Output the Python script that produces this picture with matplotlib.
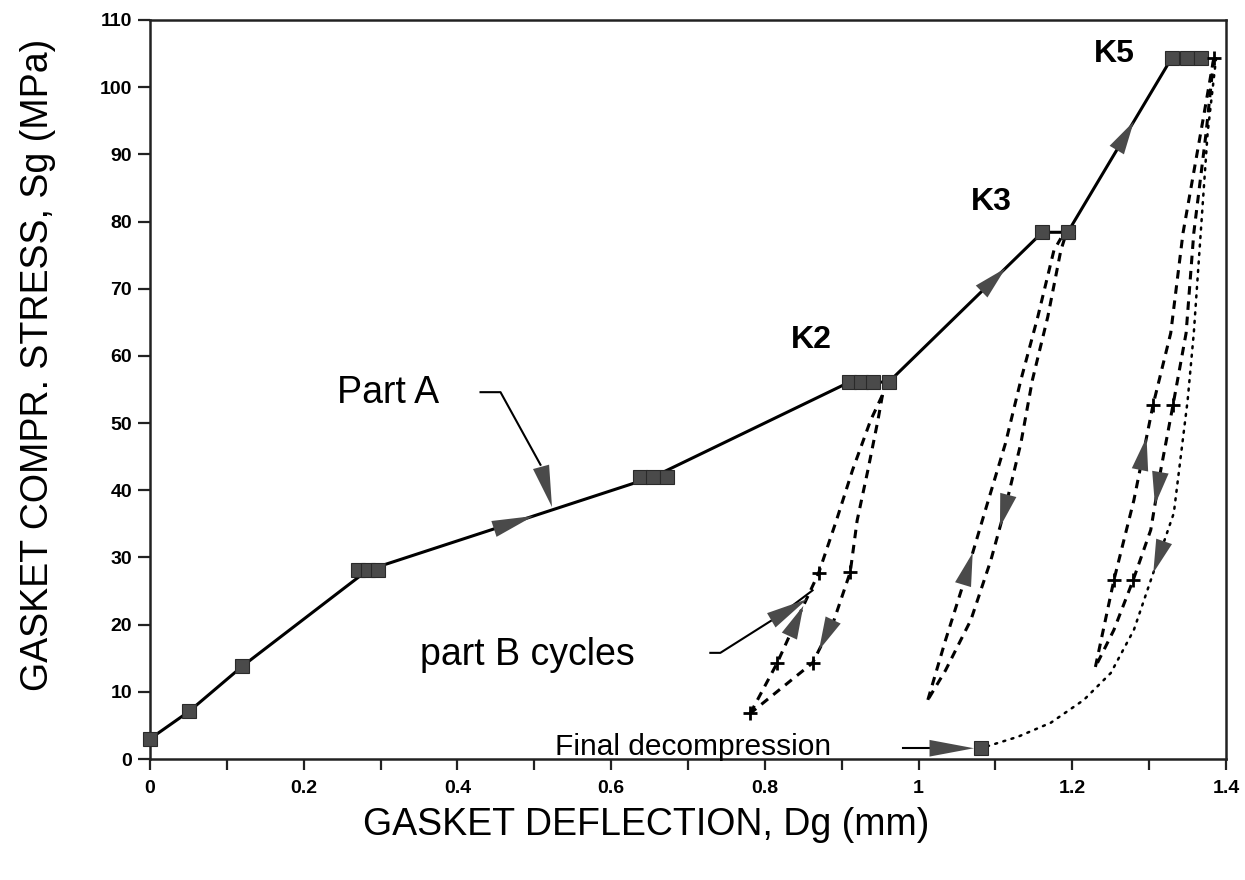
import numpy as np
import matplotlib.pyplot as plt
from matplotlib import font_manager

# Part A : montee en charge (courbe continue)
part_a_x = [0.0, 0.051, 0.12, 0.283, 0.655, 0.91, 0.961, 1.161, 1.194, 1.329, 1.367]
part_a_y = [3.0, 7.1, 13.8, 28.1, 42.0, 56.1, 56.1, 78.4, 78.4, 104.3, 104.3]

# points carres (paliers)
sq_x = [0.0, 0.051, 0.12, 0.271, 0.284, 0.296, 0.637, 0.655, 0.672,
        0.91, 0.925, 0.94, 0.961, 1.161, 1.194, 1.329, 1.349, 1.367, 1.081]
sq_y = [3.0, 7.1, 13.8, 28.1, 28.1, 28.1, 42.0, 42.0, 42.0,
        56.1, 56.1, 56.1, 56.1, 78.4, 78.4, 104.3, 104.3, 104.3, 1.6]

# Part B : cycles K2
k2_down_x = [0.953, 0.947, 0.934, 0.92, 0.911, 0.89, 0.862, 0.781]
k2_down_y = [54.2, 50.4, 43.0, 35.5, 27.8, 20.7, 14.3, 6.8]
k2_up_x = [0.781, 0.816, 0.837, 0.87, 0.893, 0.914, 0.9375, 0.953]
k2_up_y = [6.8, 14.3, 19.6, 27.7, 35.5, 43.0, 50.4, 54.2]

# cycles K3
k3_down_x = [1.19, 1.185, 1.168, 1.148, 1.133, 1.113, 1.094, 1.068, 1.035, 1.012]
k3_down_y = [77.5, 75.7, 65.8, 56.4, 47.0, 37.5, 29.6, 20.7, 13.2, 8.8]
k3_up_x = [1.012, 1.035, 1.061, 1.087, 1.113, 1.133, 1.155, 1.176, 1.185]
k3_up_y = [8.8, 17.7, 27.1, 37.1, 47.0, 56.4, 65.8, 75.7, 77.5]

# cycles K5
k5_down_x = [1.384, 1.374, 1.358, 1.348, 1.331, 1.315, 1.302, 1.279, 1.254, 1.23]
k5_down_y = [104.3, 93.2, 78.3, 63.4, 52.7, 43.0, 34.1, 26.6, 19.2, 13.7]
k5_up_x = [1.23, 1.254, 1.28, 1.305, 1.328, 1.344, 1.367, 1.384]
k5_up_y = [13.7, 26.6, 38.5, 52.7, 63.4, 78.3, 93.2, 104.3]

# decompression finale (pointilles)
final_x = [1.387, 1.376, 1.367, 1.358, 1.35, 1.332, 1.302, 1.28, 1.25, 1.215, 1.172, 1.129, 1.081]
final_y = [104.3, 93.2, 78.3, 63.4, 53.4, 36.6, 26.6, 19.2, 12.8, 8.8, 5.4, 3.3, 1.6]

# croix sur les cycles
plus_x = [0.781, 0.816, 0.862, 0.87, 0.911, 1.254, 1.279, 1.305, 1.331, 1.384]
plus_y = [6.8, 14.3, 14.3, 27.7, 27.8, 26.6, 26.6, 52.7, 52.7, 104.3]

x_ticks = [0, 0.2, 0.4, 0.6, 0.8, 1.0, 1.2, 1.4]
x_tick_labels = ['0', '0.2', '0.4', '0.6', '0.8', '1', '1.2', '1.4']
y_ticks = list(range(0, 111, 10))

GRIS = '#4a4a4a'

noms = {f.name for f in font_manager.fontManager.ttflist}
if 'Liberation Sans Narrow' in noms:
    police_lab, taille_lab = 'Liberation Sans Narrow', 33
else:
    police_lab, taille_lab = 'Liberation Sans', 27
plt.rcParams['font.family'] = ['Liberation Sans', 'DejaVu Sans']


def fleche(ax, xs, ys, a, b, selon='x', taille=1.0):
    # tete de fleche posee sur une courbe
    xs = np.asarray(xs)
    ys = np.asarray(ys)
    if selon == 'x':
        o = np.argsort(xs)
        x0, x1 = a, b
        y0, y1 = np.interp([a, b], xs[o], ys[o])
    else:
        o = np.argsort(ys)
        y0, y1 = a, b
        x0, x1 = np.interp([a, b], ys[o], xs[o])
    ax.annotate('', xy=(x1, y1), xytext=(x0, y0),
                arrowprops=dict(arrowstyle='-|>,head_length=%.2f,head_width=0.6' % (2.4 * taille),
                                mutation_scale=10, fc=GRIS, ec='none', lw=0,
                                shrinkA=0, shrinkB=0))


fig = plt.figure(figsize=(12.45, 8.8), dpi=100)
ax = fig.add_axes([0.1205, 0.1375, 0.8643, 0.8398])

dash = (0, (2.8, 2.2))
dot = (0, (0.8, 2.6))

ax.plot(part_a_x, part_a_y, color='black', lw=2.2, zorder=3)
ax.plot(k2_down_x, k2_down_y, color='black', lw=2.2, ls=dash)
ax.plot(k2_up_x, k2_up_y, color='black', lw=2.2, ls=dash)
ax.plot(k3_down_x, k3_down_y, color='black', lw=2.2, ls=dash)
ax.plot(k3_up_x, k3_up_y, color='black', lw=2.2, ls=dash)
ax.plot(k5_down_x, k5_down_y, color='black', lw=2.2, ls=dash)
ax.plot(k5_up_x, k5_up_y, color='black', lw=2.2, ls=dash)
ax.plot(final_x, final_y, color='black', lw=1.8, ls=dot, dash_capstyle='round')

ax.plot(sq_x, sq_y, ls='none', marker='s', ms=9.5, mfc=GRIS, mec='#2a2a2a',
        mew=0.8, zorder=5, clip_on=False)
ax.plot(plus_x, plus_y, ls='none', marker='+', ms=10, mew=2, color='black',
        zorder=5, clip_on=False)

# fleches de sens
fleche(ax, part_a_x, part_a_y, 0.445, 0.499, taille=1.25)
fleche(ax, part_a_x, part_a_y, 1.081, 1.113)
fleche(ax, part_a_x, part_a_y, 1.254, 1.28)
fleche(ax, k2_up_x, k2_up_y, 17.7, 22.8, selon='y')
fleche(ax, k2_down_x, k2_down_y, 21.7, 16.2, selon='y')
fleche(ax, k3_up_x, k3_up_y, 25.6, 30.7, selon='y')
fleche(ax, k3_down_x, k3_down_y, 40.0, 34.5, selon='y')
fleche(ax, k5_up_x, k5_up_y, 41.5, 47.9, selon='y')
fleche(ax, k5_down_x, k5_down_y, 43.0, 37.8, selon='y')
fleche(ax, final_x, final_y, 32.6, 27.7, selon='y')

# annotations
ax.text(0.31, 53.0, 'Part A', fontsize=27, ha='center', va='baseline')
ax.plot([0.43, 0.456, 0.508], [54.6, 54.6, 43.8], color='black', lw=1.5)
ax.annotate('', xy=(0.523, 37.5), xytext=(0.508, 43.8),
            arrowprops=dict(arrowstyle='-|>,head_length=3.0,head_width=0.6',
                            mutation_scale=10, fc=GRIS, ec='none', lw=0,
                            shrinkA=0, shrinkB=0))

ax.text(0.491, 14.0, 'part B cycles', fontsize=27, ha='center', va='baseline')
ax.plot([0.729, 0.742, 0.818, 0.862], [15.8, 15.8, 21.3, 25.1], color='black', lw=1.5)
ax.annotate('', xy=(0.855, 23.8), xytext=(0.818, 21.3),
            arrowprops=dict(arrowstyle='-|>,head_length=3.0,head_width=0.6',
                            mutation_scale=10, fc=GRIS, ec='none', lw=0,
                            shrinkA=0, shrinkB=0))

ax.text(0.707, 0.6, 'Final decompression', fontsize=21.5, ha='center', va='baseline')
ax.plot([0.98, 1.03], [1.6, 1.6], color='black', lw=1.5)
ax.annotate('', xy=(1.072, 1.6), xytext=(1.025, 1.6),
            arrowprops=dict(arrowstyle='-|>,head_length=3.2,head_width=0.6',
                            mutation_scale=10, fc=GRIS, ec='none', lw=0,
                            shrinkA=0, shrinkB=0))

ax.text(0.861, 61.2, 'K2', fontsize=23, fontweight='bold', ha='center', va='baseline')
ax.text(1.095, 81.7, 'K3', fontsize=23, fontweight='bold', ha='center', va='baseline')
ax.text(1.255, 103.7, 'K5', fontsize=23, fontweight='bold', ha='center', va='baseline')

# axes
ax.set_xlim(0, 1.4)
ax.set_ylim(0, 110)
ax.set_xticks(x_ticks)
ax.set_xticklabels(x_tick_labels)
ax.set_xticks(np.arange(0.1, 1.4, 0.2), minor=True)
ax.set_yticks(y_ticks)
ax.tick_params(axis='both', which='both', direction='out', width=1.6, color='#222222')
ax.tick_params(axis='x', which='both', length=8, pad=7)
ax.tick_params(axis='y', length=9, pad=4)
for lab in ax.get_xticklabels() + ax.get_yticklabels():
    lab.set_fontsize(14)
    lab.set_fontweight('bold')
for s in ax.spines.values():
    s.set_linewidth(1.8)
    s.set_color('#222222')

fig.text(0.519, 0.0625, 'GASKET DEFLECTION, Dg (mm)', family=[police_lab, 'DejaVu Sans'],
         fontsize=taille_lab, ha='center', va='center')
fig.text(0.0305, 0.585, 'GASKET COMPR. STRESS, Sg (MPa)', family=[police_lab, 'DejaVu Sans'],
         fontsize=taille_lab, ha='center', va='center', rotation=90)

fig.savefig('out.png', dpi=100)
